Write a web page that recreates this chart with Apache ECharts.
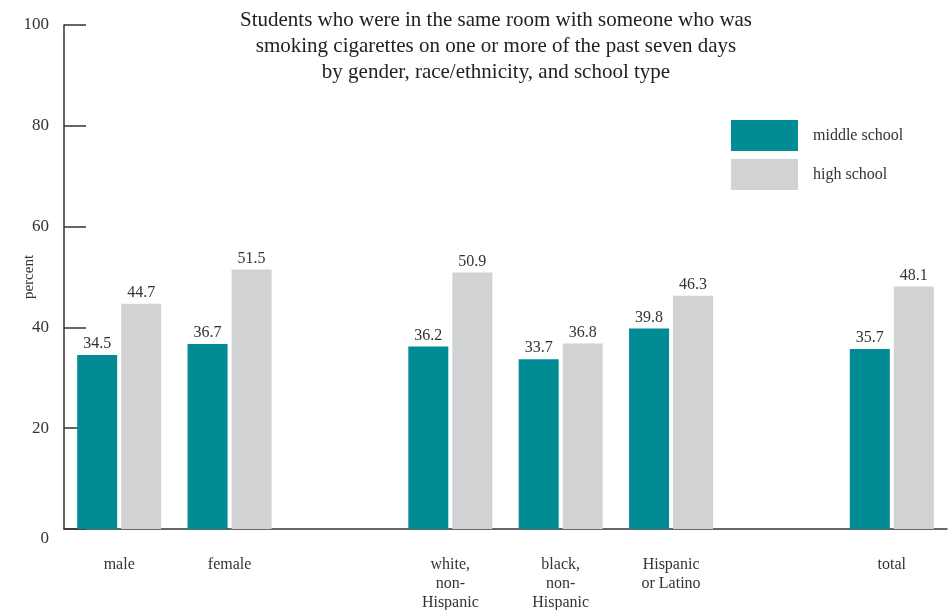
<!DOCTYPE html>
<html><head><meta charset="utf-8">
<script src="https://cdn.jsdelivr.net/npm/echarts@6/dist/echarts.min.js"></script>
<style>html,body{margin:0;padding:0;background:#fff}#c{width:948px;height:610px}</style>
</head><body><div id="c"></div>
<script>
const categories = ['male', 'female', '', 'white,\nnon-\nHispanic', 'black,\nnon-\nHispanic', 'Hispanic\nor Latino', '', 'total'];
const middleSchool = [34.5, 36.7, '-', 36.2, 33.7, 39.8, '-', 35.7];
const highSchool = [44.7, 51.5, '-', 50.9, 36.8, 46.3, '-', 48.1];
const yTicks = [0, 20, 40, 60, 80, 100];
const titleText = 'Students who were in the same room with someone who was\nsmoking cigarettes on one or more of the past seven days\nby gender, race/ethnicity, and school type';

const FONT = '"Liberation Serif", "DejaVu Serif", serif';
const chart = echarts.init(document.getElementById('c'), null, {renderer: 'canvas'});
const labelCfg = {show: true, position: 'top', distance: 3, color: '#333', fontFamily: FONT, fontSize: 16};
chart.setOption({
  backgroundColor: '#fff',
  animation: false,
  title: {
    text: titleText, left: 491, top: 2, textAlign: 'center',
    textStyle: {fontFamily: FONT, fontSize: 21, fontWeight: 'normal', color: '#222', lineHeight: 26}
  },
  legend: {
    orient: 'vertical', left: 731, top: 120, padding: 0, itemWidth: 67, itemHeight: 31, itemGap: 8,
    icon: 'rect',
    textStyle: {fontFamily: FONT, fontSize: 16, color: '#333', padding: [2, 0, 0, 10]},
    data: ['middle school', 'high school']
  },
  grid: {left: 64, right: 1, top: 25, bottom: 81, containLabel: false, outerBoundsMode: 'none'},
  xAxis: {
    type: 'category', data: categories,
    axisLine: {show: true, lineStyle: {color: '#333', width: 1.5}},
    axisTick: {show: false},
    axisLabel: {interval: 0, margin: 26, color: '#333', fontFamily: FONT, fontSize: 16, lineHeight: 19, verticalAlign: 'top'}
  },
  yAxis: {
    type: 'value', min: 0, max: 100, interval: 20,
    name: 'percent', nameLocation: 'middle', nameGap: 27, nameRotate: 90, nameMoveOverlap: false,
    nameTextStyle: {fontFamily: FONT, fontSize: 15, color: '#333'},
    axisLine: {show: true, lineStyle: {color: '#333', width: 1.5}},
    axisTick: {show: true, inside: true, length: 22, lineStyle: {color: '#333', width: 1.5}},
    splitLine: {show: false},
    axisLabel: {
      margin: 15, color: '#333', fontFamily: FONT, fontSize: 17,
      formatter: function (v) { return v === 0 ? '{z|0}' : String(v); },
      rich: {z: {fontFamily: FONT, fontSize: 17, color: '#333', padding: [20, 0, 0, 0]}}
    }
  },
  series: [
    {name: 'middle school', type: 'bar', data: middleSchool, barWidth: 40, barGap: '10%',
     itemStyle: {color: '#008B95'}, label: labelCfg},
    {name: 'high school', type: 'bar', data: highSchool, barWidth: 40, barGap: '10%',
     itemStyle: {color: '#D1D2D4'}, label: labelCfg}
  ]
});
</script></body></html>
